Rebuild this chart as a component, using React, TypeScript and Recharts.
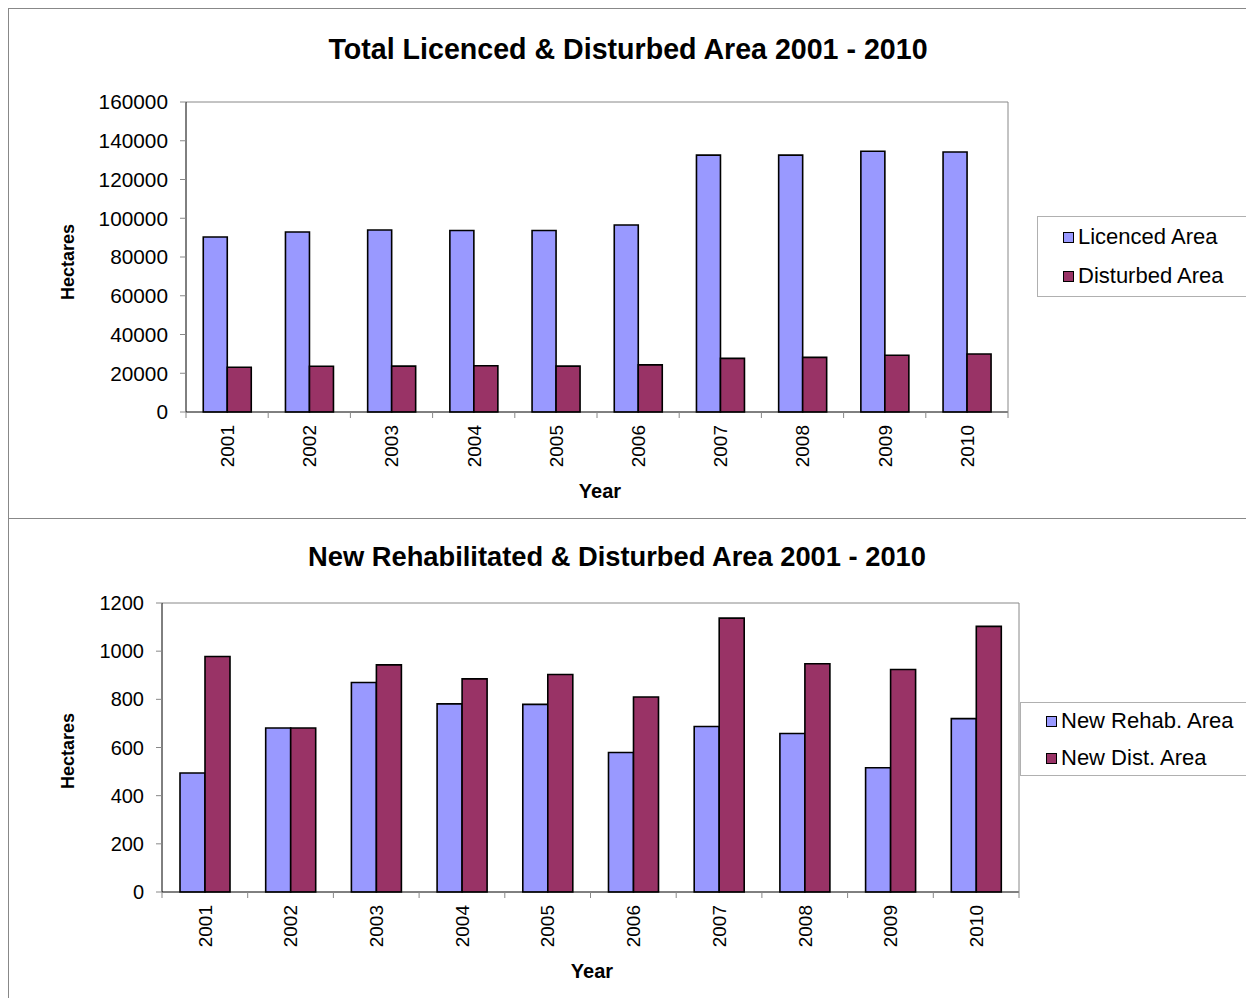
import React from 'react';
import { BarChart, Bar, XAxis, YAxis, ReferenceLine } from 'recharts';

// Years shared by both charts
const years = ['2001', '2002', '2003', '2004', '2005', '2006', '2007', '2008', '2009', '2010'];

// Top chart (hectares)
const licencedArea = [90300, 92900, 93900, 93700, 93700, 96500, 132600, 132600, 134600, 134200];
const disturbedArea = [23100, 23600, 23700, 23900, 23700, 24300, 27700, 28200, 29300, 29900];
const topTicks = [0, 20000, 40000, 60000, 80000, 100000, 120000, 140000, 160000];

// Bottom chart (hectares)
const newRehabArea = [494, 681, 870, 781, 779, 579, 687, 658, 516, 720];
const newDistArea = [978, 681, 943, 885, 903, 810, 1137, 948, 924, 1103];
const bottomTicks = [0, 200, 400, 600, 800, 1000, 1200];

const FONT = '"Liberation Sans", Arial, Helvetica, sans-serif';
const BLUE = '#9999FF';
const PLUM = '#993366';
const FRAME = '#888888';

const topData = years.map((year, i) => ({ year, licenced: licencedArea[i], disturbed: disturbedArea[i] }));
const bottomData = years.map((year, i) => ({ year, rehab: newRehabArea[i], dist: newDistArea[i] }));

// rotated year label plus tick marks between the categories
const YearTick = ({ x, y, payload, index, band, count }: any) => {
  const axisY = y - 13;
  return (
    <g>
      <line x1={x - band / 2} y1={axisY} x2={x - band / 2} y2={axisY + 6} stroke={FRAME} />
      {index === count - 1 && (
        <line x1={x + band / 2} y1={axisY} x2={x + band / 2} y2={axisY + 6} stroke={FRAME} />
      )}
      <text
        x={x}
        y={y}
        transform={`rotate(-90, ${x}, ${y})`}
        textAnchor="end"
        dy="0.36em"
        fontSize={19}
        fill="#000"
      >
        {payload.value}
      </text>
    </g>
  );
};

const Centered = ({ x, y, size, rotate, children }: any) => (
  <div
    style={{
      position: 'absolute',
      left: x,
      top: y,
      transform: `translate(-50%, -50%)${rotate ? ' rotate(-90deg)' : ''}`,
      whiteSpace: 'nowrap',
      fontWeight: 'bold',
      fontSize: size,
      color: '#000',
    }}
  >
    {children}
  </div>
);

const LegendBox = ({ left, top, width, height, items, rows }: any) => (
  <div
    style={{
      position: 'absolute',
      left,
      top,
      width,
      height,
      border: '1px solid #b0b0b0',
      background: '#fff',
      boxSizing: 'border-box',
    }}
  >
    {items.map((item: any, i: number) => (
      <div
        key={item.name}
        style={{
          position: 'absolute',
          left: 25,
          top: rows[i],
          transform: 'translateY(-50%)',
          display: 'flex',
          alignItems: 'center',
          whiteSpace: 'nowrap',
          fontSize: 22,
        }}
      >
        <span
          style={{
            display: 'inline-block',
            width: 9,
            height: 9,
            background: item.color,
            border: '1.5px solid #000',
            marginRight: 4,
          }}
        />
        {item.name}
      </div>
    ))}
  </div>
);

export default function App() {
  return (
    <div style={{ position: 'relative', width: 1246, height: 990, fontFamily: FONT, overflow: 'hidden' }}>
      <style>{'body{overflow:hidden}'}</style>

      {/* top panel */}
      <div
        style={{
          position: 'absolute',
          left: 0,
          top: 0,
          width: 1246,
          height: 510,
          borderLeft: `1px solid ${FRAME}`,
          borderTop: `1px solid ${FRAME}`,
          boxSizing: 'border-box',
        }}
      >
        <Centered x={619} y={40} size={28.6}>Total Licenced &amp; Disturbed Area 2001 - 2010</Centered>
        <Centered x={59} y={253} size={18} rotate>Hectares</Centered>
        <Centered x={591} y={482} size={20}>Year</Centered>
        <div style={{ position: 'absolute', left: -1, top: -1 }}>
          <BarChart
            width={1246}
            height={510}
            data={topData}
            margin={{ top: 94, right: 245, bottom: 46, left: 88 }}
            barCategoryGap="21%"
            barGap={0}
          >
            <XAxis
              dataKey="year"
              height={60}
              interval={0}
              axisLine={{ stroke: '#000' }}
              tickLine={false}
              tickSize={6}
              tickMargin={7}
              tick={(p: any) => <YearTick {...p} band={82.2} count={years.length} />}
            />
            <YAxis
              width={90}
              domain={[0, 160000]}
              ticks={topTicks}
              interval={0}
              axisLine={{ stroke: '#000' }}
              tickLine={{ stroke: FRAME }}
              tickSize={6}
              tickMargin={12}
              tick={{ fontSize: 20.8, fill: '#000' }}
            />
            <YAxis
              yAxisId="r"
              orientation="right"
              width={1}
              domain={[0, 160000]}
              axisLine={{ stroke: FRAME }}
              tick={false}
              tickLine={false}
            />
            <ReferenceLine y={160000} stroke={FRAME} />
            <Bar dataKey="licenced" name="Licenced Area" fill={BLUE} stroke="#000" strokeWidth={1.6} isAnimationActive={false} />
            <Bar dataKey="disturbed" name="Disturbed Area" fill={PLUM} stroke="#000" strokeWidth={1.6} isAnimationActive={false} />
          </BarChart>
        </div>
        <LegendBox
          left={1028}
          top={207}
          width={214}
          height={81}
          rows={[20, 59]}
          items={[
            { name: 'Licenced Area', color: BLUE },
            { name: 'Disturbed Area', color: PLUM },
          ]}
        />
      </div>

      {/* bottom panel */}
      <div
        style={{
          position: 'absolute',
          left: 0,
          top: 510,
          width: 1246,
          height: 480,
          borderLeft: `1px solid ${FRAME}`,
          borderTop: `1px solid ${FRAME}`,
          boxSizing: 'border-box',
        }}
      >
        <Centered x={608} y={38} size={27.3}>New Rehabilitated &amp; Disturbed Area 2001 - 2010</Centered>
        <Centered x={59} y={232} size={18} rotate>Hectares</Centered>
        <Centered x={583} y={452} size={20}>Year</Centered>
        <div style={{ position: 'absolute', left: -1, top: -1 }}>
          <BarChart
            width={1246}
            height={480}
            data={bottomData}
            margin={{ top: 85, right: 234, bottom: 46, left: 64 }}
            barCategoryGap="21%"
            barGap={0}
          >
            <XAxis
              dataKey="year"
              height={60}
              interval={0}
              axisLine={{ stroke: '#000' }}
              tickLine={false}
              tickSize={6}
              tickMargin={7}
              tick={(p: any) => <YearTick {...p} band={85.7} count={years.length} />}
            />
            <YAxis
              width={90}
              domain={[0, 1200]}
              ticks={bottomTicks}
              interval={0}
              axisLine={{ stroke: '#000' }}
              tickLine={{ stroke: FRAME }}
              tickSize={6}
              tickMargin={12}
              tick={{ fontSize: 20, fill: '#000' }}
            />
            <YAxis
              yAxisId="r"
              orientation="right"
              width={1}
              domain={[0, 1200]}
              axisLine={{ stroke: FRAME }}
              tick={false}
              tickLine={false}
            />
            <ReferenceLine y={1200} stroke={FRAME} />
            <Bar dataKey="rehab" name="New Rehab. Area" fill={BLUE} stroke="#000" strokeWidth={1.6} isAnimationActive={false} />
            <Bar dataKey="dist" name="New Dist. Area" fill={PLUM} stroke="#000" strokeWidth={1.6} isAnimationActive={false} />
          </BarChart>
        </div>
        <LegendBox
          left={1011}
          top={183}
          width={260}
          height={74}
          rows={[18, 55]}
          items={[
            { name: 'New Rehab. Area', color: BLUE },
            { name: 'New Dist. Area', color: PLUM },
          ]}
        />
      </div>
    </div>
  );
}
